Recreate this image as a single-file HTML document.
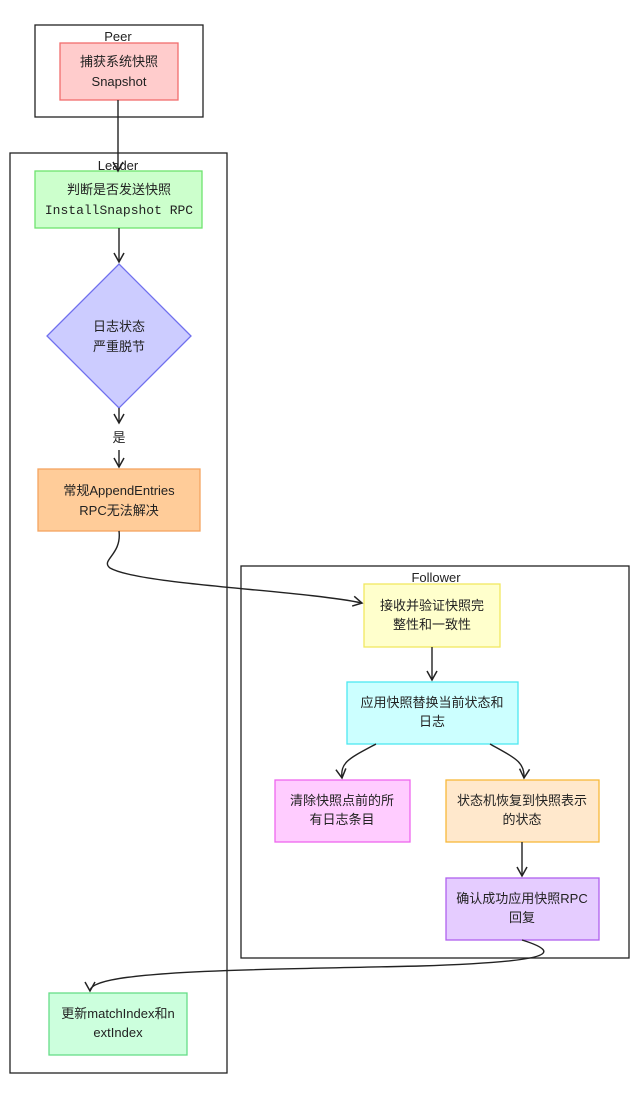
<!DOCTYPE html>
<html><head><meta charset="utf-8"><style>
body{margin:0;background:#fff}
text{font-family:"Liberation Sans","Noto Sans CJK SC",sans-serif;font-size:13px;fill:#222;text-anchor:middle}
</style></head><body>
<svg width="642" height="1090" viewBox="0 0 642 1090" xmlns="http://www.w3.org/2000/svg">
<defs><marker id="a" markerWidth="12" markerHeight="12" refX="10" refY="6" orient="auto" markerUnits="userSpaceOnUse"><path d="M1,1 L10,6 L1,11" fill="none" stroke="#222" stroke-width="1.5"/></marker></defs>
<g fill="none" stroke="#222" stroke-width="1.3">
<rect x="35" y="25" width="168" height="92"/>
<rect x="10" y="153" width="217" height="920"/>
<rect x="241" y="566" width="388" height="392"/>
</g>
<text x="118" y="41">Peer</text>
<text x="118" y="170">Leader</text>
<text x="436" y="582">Follower</text>
<rect x="60" y="43" width="118" height="57" fill="#ffcccc" stroke="#f26d6d" stroke-width="1.3"/>
<text x="119" y="66">捕获系统快照</text><text x="119" y="86">Snapshot</text>
<rect x="35" y="171" width="167" height="57" fill="#ccffcc" stroke="#6ee36e" stroke-width="1.3"/>
<text x="119" y="194">判断是否发送快照</text><text x="119" y="214" style="font-family:'Liberation Mono',monospace">InstallSnapshot RPC</text>
<polygon points="119,264 191,336 119,408 47,336" fill="#ccccff" stroke="#7070ee" stroke-width="1.3"/>
<text x="119" y="331">日志状态</text><text x="119" y="351">严重脱节</text>
<text x="119" y="442">是</text>
<rect x="38" y="469" width="162" height="62" fill="#ffcc99" stroke="#f4a460" stroke-width="1.3"/>
<text x="119" y="495">常规AppendEntries</text><text x="119" y="515">RPC无法解决</text>
<rect x="364" y="584" width="136" height="63" fill="#ffffcc" stroke="#f0e860" stroke-width="1.3"/>
<text x="432" y="610">接收并验证快照完</text><text x="432" y="629">整性和一致性</text>
<rect x="347" y="682" width="171" height="62" fill="#ccffff" stroke="#4de8f0" stroke-width="1.3"/>
<text x="432" y="707">应用快照替换当前状态和</text><text x="432" y="726">日志</text>
<rect x="275" y="780" width="135" height="62" fill="#ffccff" stroke="#ee66ee" stroke-width="1.3"/>
<text x="342" y="805">清除快照点前的所</text><text x="342" y="824">有日志条目</text>
<rect x="446" y="780" width="153" height="62" fill="#ffe8cc" stroke="#f8b83a" stroke-width="1.3"/>
<text x="522" y="805">状态机恢复到快照表示</text><text x="522" y="824">的状态</text>
<rect x="446" y="878" width="153" height="62" fill="#e5ccff" stroke="#b060ee" stroke-width="1.3"/>
<text x="522" y="903">确认成功应用快照RPC</text><text x="522" y="922">回复</text>
<rect x="49" y="993" width="138" height="62" fill="#ccffdd" stroke="#66dd88" stroke-width="1.3"/>
<text x="118" y="1018">更新matchIndex和n</text><text x="118" y="1037">extIndex</text>
<g fill="none" stroke="#222" stroke-width="1.4" marker-end="url(#a)">
<path d="M118,100 L118,171"/>
<path d="M119,228 L119,262"/>
<path d="M119,408 L119,423"/>
<path d="M119,450 L119,467"/>
<path d="M119,531 C122,555 100,560 110,568 C140,585 300,590 362,603"/>
<path d="M432,647 L432,680"/>
<path d="M376,744 C350,758 340,762 342,778"/>
<path d="M490,744 C515,758 525,762 524,778"/>
<path d="M522,842 L522,876"/>
<path d="M522,940 C570,955 540,962 420,966 C250,970 90,970 90,991"/>
</g>
</svg>
</body></html>
